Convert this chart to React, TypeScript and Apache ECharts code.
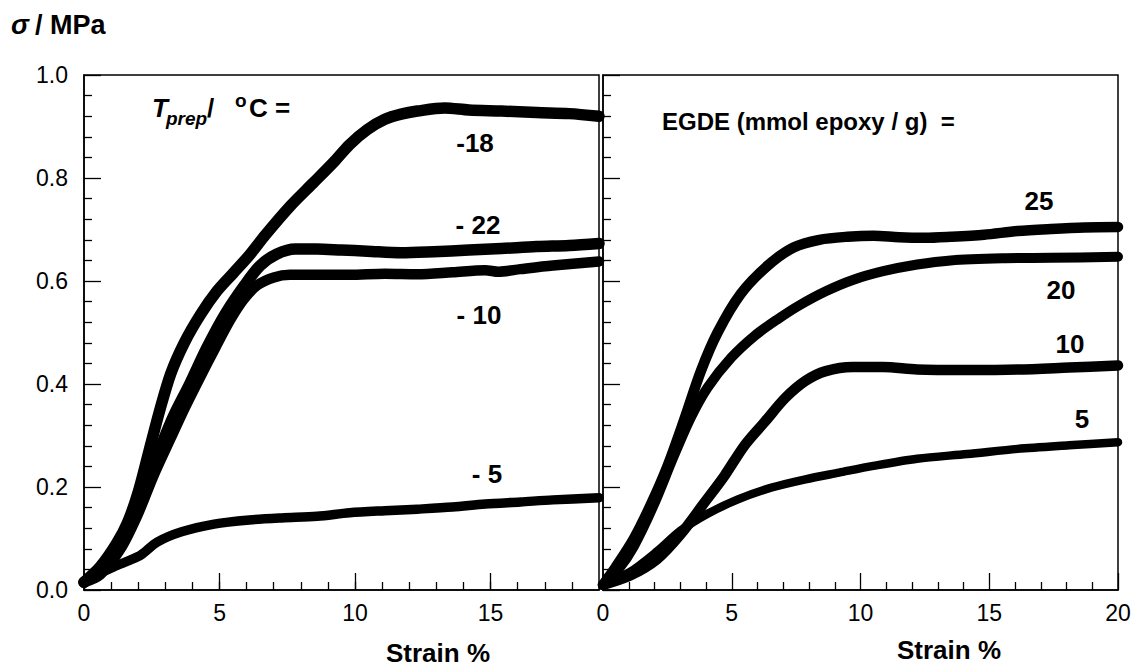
import React, { useEffect, useRef } from "react";
import * as echarts from "echarts";

const FONT = "'Liberation Sans', Arial, Helvetica, sans-serif";

// Left panel: T_prep series (strain %, stress MPa)
const tM18: [number, number][] = [
  [0, 0.015], [0.6, 0.045], [1.2, 0.09], [1.6, 0.13], [2.0, 0.19], [2.4, 0.27], [2.8, 0.35],
  [3.2, 0.42], [3.7, 0.48], [4.3, 0.535], [4.9, 0.58], [5.5, 0.615], [6.1, 0.65], [6.7, 0.69],
  [7.6, 0.745], [8.45, 0.79], [9.2, 0.83], [9.8, 0.865], [10.45, 0.894], [11.1, 0.914],
  [11.7, 0.924], [12.3, 0.93], [13.3, 0.936], [14.2, 0.932], [15.4, 0.93], [16.7, 0.927],
  [17.9, 0.925], [19, 0.92],
];
const tM22: [number, number][] = [
  [0, 0.015], [0.6, 0.04], [1.2, 0.08], [1.7, 0.125], [2.2, 0.19], [2.66, 0.255], [3.28, 0.335],
  [3.9, 0.4], [4.53, 0.47], [5.2, 0.535], [5.9, 0.59], [6.5, 0.63], [7.1, 0.652], [7.8, 0.662],
  [8.6, 0.662], [9.5, 0.66], [10.45, 0.658], [11.7, 0.655], [12.9, 0.657], [14.2, 0.66],
  [15.4, 0.663], [16.7, 0.667], [17.9, 0.669], [19, 0.673],
];
const tM10: [number, number][] = [
  [0, 0.015], [0.6, 0.03], [1.35, 0.08], [1.97, 0.145], [2.59, 0.225], [3.2, 0.295], [3.73, 0.355],
  [4.3, 0.415], [4.84, 0.47], [5.4, 0.525], [5.9, 0.565], [6.4, 0.592], [7.0, 0.607], [7.6, 0.612],
  [8.6, 0.612], [9.8, 0.612], [11.1, 0.614], [12.3, 0.613], [13.6, 0.617], [14.8, 0.621],
  [15.3, 0.618], [16.1, 0.623], [17.3, 0.63], [19, 0.638],
];
const tM5: [number, number][] = [
  [0, 0.015], [0.5, 0.03], [1.1, 0.045], [1.7, 0.058], [2.1, 0.068], [2.7, 0.093], [3.6, 0.113],
  [4.8, 0.128], [6.1, 0.136], [7.3, 0.14], [8.6, 0.143], [9.8, 0.15], [11.1, 0.154], [12.3, 0.157],
  [13.6, 0.161], [14.8, 0.167], [16.1, 0.171], [17.3, 0.175], [19, 0.179],
];

// Right panel: EGDE series
const e25: [number, number][] = [
  [0, 0.01], [0.5, 0.045], [1.2, 0.1], [1.85, 0.165], [2.5, 0.24], [3.15, 0.33], [3.8, 0.425],
  [4.45, 0.5], [5.35, 0.575], [6.4, 0.63], [7.4, 0.665], [8.4, 0.68], [9.5, 0.686], [10.5, 0.688],
  [11.5, 0.685], [12.5, 0.684], [13.5, 0.686], [14.8, 0.69], [16.1, 0.697], [17.4, 0.701],
  [18.7, 0.704], [20, 0.705],
];
const e20: [number, number][] = [
  [0, 0.01], [0.6, 0.04], [1.2, 0.085], [1.97, 0.165], [2.75, 0.26], [3.41, 0.335], [4.06, 0.393],
  [4.98, 0.451], [5.9, 0.494], [6.82, 0.527], [7.6, 0.552], [8.65, 0.58], [9.7, 0.602],
  [10.88, 0.619], [12.2, 0.632], [13.5, 0.64], [15.5, 0.644], [17.4, 0.645], [20, 0.647],
];
const e10: [number, number][] = [
  [0, 0.01], [1.05, 0.028], [2.1, 0.06], [3.01, 0.108], [3.93, 0.169], [4.72, 0.222], [5.5, 0.281],
  [6.29, 0.327], [7.08, 0.373], [7.86, 0.406], [8.65, 0.425], [9.7, 0.433], [10.88, 0.433],
  [12.2, 0.428], [14.15, 0.427], [16.1, 0.428], [18.1, 0.432], [20, 0.436],
];
const e5: [number, number][] = [
  [0, 0.01], [1.05, 0.035], [2.1, 0.075], [3.01, 0.115], [4.06, 0.148], [5.24, 0.176],
  [6.55, 0.199], [7.86, 0.215], [9.17, 0.228], [10.5, 0.241], [12.2, 0.255], [14.15, 0.264],
  [16.1, 0.274], [18.1, 0.281], [20, 0.287],
];

const leftLabels = ["-18", "- 22", "- 10", "- 5"];
const rightLabels = ["25", "20", "10", "5"];

export default function App() {
  const ref = useRef<HTMLDivElement>(null);
  useEffect(() => {
    if (!ref.current) return;
    const chart = echarts.init(ref.current, undefined, { renderer: "svg" });
    const black = "#000";
    const tickLabel = { color: black, fontSize: 23, fontFamily: FONT };
    const line = (xi: number, yi: number, data: [number, number][], w: number) => ({
      type: "line",
      xAxisIndex: xi,
      yAxisIndex: yi,
      data,
      smooth: 0.3,
      showSymbol: false,
      symbol: "none",
      lineStyle: { color: black, width: w, cap: "round", join: "round" },
      z: 3,
    });
    const txt = (x: number, y: number, text: string, size: number, opts: any = {}) => ({
      type: "text",
      x,
      y,
      style: {
        text,
        fill: black,
        font: `${opts.italic ? "italic " : ""}bold ${size}px ${FONT}`,
        align: opts.align || "center",
        verticalAlign: "middle",
      },
      z: 10,
    });
    const yBase = {
      type: "value",
      min: 0,
      max: 1,
      interval: 0.2,
      axisLine: { show: true, lineStyle: { color: black, width: 1.5 } },
      axisTick: { show: true, inside: true, length: 17, lineStyle: { color: black, width: 1.3 } },
      minorTick: { show: true, splitNumber: 5, length: 8, lineStyle: { color: black, width: 1.3 } },
      splitLine: { show: false },
      minorSplitLine: { show: false },
    };
    chart.setOption({
      animation: false,
      backgroundColor: "#fff",
      grid: [
        { left: 84, top: 75, width: 515, height: 515, show: true, borderColor: black, borderWidth: 1.5, backgroundColor: "transparent" },
        { left: 603, top: 75, width: 515, height: 515, show: true, borderColor: black, borderWidth: 1.5, backgroundColor: "transparent" },
      ],
      xAxis: [
        {
          type: "value", gridIndex: 0, position: "bottom", min: 0, max: 19, interval: 5,
          axisLine: { show: true, lineStyle: { color: black, width: 1.5 } },
          axisTick: { show: true, inside: true, length: 17, lineStyle: { color: black, width: 1.3 } },
          axisLabel: { ...tickLabel, margin: 11, showMaxLabel: false, formatter: (v: number) => (v % 5 === 0 ? String(v) : "") },
          splitLine: { show: false },
        },
        {
          type: "value", gridIndex: 1, position: "bottom", min: 0, max: 20, interval: 5,
          axisLine: { show: true, lineStyle: { color: black, width: 1.5 } },
          axisTick: { show: true, inside: true, length: 17, lineStyle: { color: black, width: 1.3 } },
          minorTick: { show: true, splitNumber: 5, length: 8, lineStyle: { color: black, width: 1.3 } },
          axisLabel: { ...tickLabel, margin: 11 },
          splitLine: { show: false },
          minorSplitLine: { show: false },
        },
        {
          type: "value", gridIndex: 0, position: "bottom", min: 0, max: 19, interval: 1,
          axisLine: { show: false },
          axisTick: { show: true, inside: true, length: 8, lineStyle: { color: black, width: 1.3 } },
          axisLabel: { show: false },
          splitLine: { show: false },
        },
      ],
      yAxis: [
        { ...yBase, gridIndex: 0, axisLabel: { ...tickLabel, margin: 16, formatter: (v: number) => v.toFixed(1) } },
        { ...yBase, gridIndex: 1, axisLabel: { show: false } },
      ],
      series: [
        line(0, 0, tM18, 11.5),
        line(0, 0, tM22, 11.5),
        line(0, 0, tM10, 10.5),
        line(0, 0, tM5, 9.5),
        line(1, 1, e25, 10.5),
        line(1, 1, e20, 10),
        line(1, 1, e10, 10.5),
        line(1, 1, e5, 8.5),
      ],
      graphic: [
        txt(11, 25, "σ", 27, { italic: true, align: "left" }),
        txt(35, 25, "/ MPa", 27, { align: "left" }),
        txt(438, 653, "Strain %", 26),
        txt(949, 650, "Strain %", 26),
        txt(152, 108, "T", 26, { italic: true, align: "left" }),
        txt(166, 118, "prep", 19, { italic: true, align: "left" }),
        txt(207, 108, "/", 26, { align: "left" }),
        txt(235, 100, "o", 19, { align: "left" }),
        txt(249, 108, "C =", 26, { align: "left" }),
        txt(662, 121, "EGDE (mmol epoxy / g)  =", 24, { align: "left" }),
        txt(475, 143, leftLabels[0], 26),
        txt(478, 225, leftLabels[1], 26),
        txt(479, 315, leftLabels[2], 26),
        txt(487, 474, leftLabels[3], 26),
        txt(1039, 201, rightLabels[0], 26),
        txt(1061, 290, rightLabels[1], 26),
        txt(1070, 344, rightLabels[2], 26),
        txt(1082, 419, rightLabels[3], 26),
      ],
    });
    return () => chart.dispose();
  }, []);
  return (
    <div
      ref={ref}
      style={{ position: "fixed", left: 0, top: 0, width: 1136, height: 671, background: "#fff" }}
    />
  );
}
